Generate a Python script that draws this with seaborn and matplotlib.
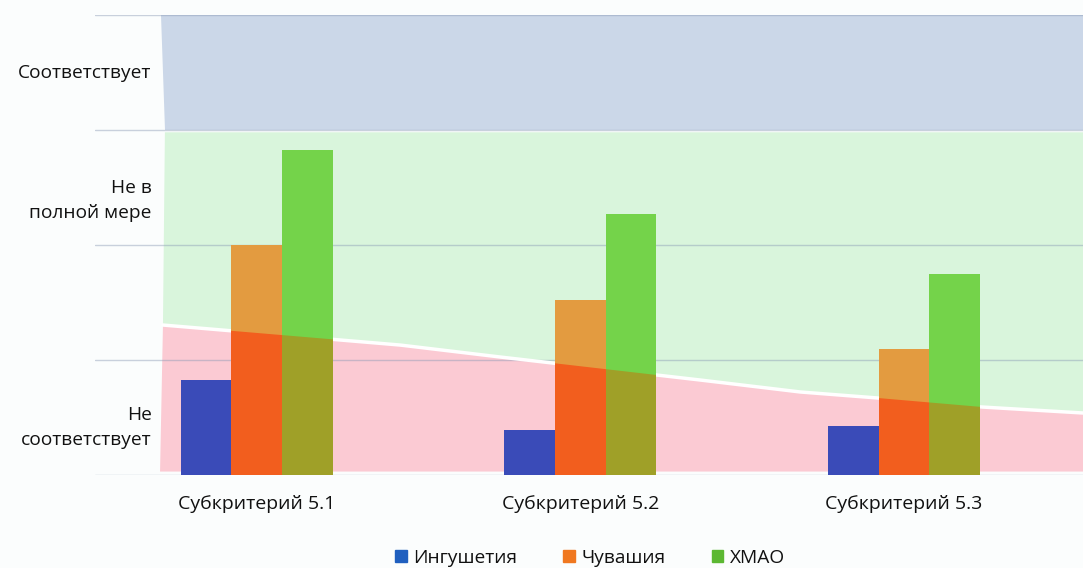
import numpy as np
import pandas as pd
import matplotlib
matplotlib.use('Agg')
from matplotlib import pyplot as plt
from matplotlib.patches import Polygon, Patch
import seaborn as sns

# Chart data
criteria = ['Субкритерий 5.1', 'Субкритерий 5.2', 'Субкритерий 5.3']
regions = ['Ингушетия', 'Чувашия', 'ХМАО']
ingushetia = [0.83, 0.39, 0.43]
chuvashia = [2.0, 1.52, 1.10]
khmao = [2.83, 2.27, 1.75]

# Zone labels on the left
level_labels = ['Не\nсоответствует', 'Не в\nполной мере', 'Соответствует']
level_pos = [0.41, 2.39, 3.5]

# Border between the red and green zones
border_x = [-0.29, 0.443, 0.752, 1.370, 1.679, 1.917, 2.242, 2.554]
border_y = [1.304, 1.13, 1.026, 0.826, 0.722, 0.67, 0.591, 0.539]

legend_colors = ['#1f5fbf', '#f07820', '#5cb832']
upper_colors = ['#3a4bb8', '#e39b40', '#74d34a']
lower_colors = ['#3a4bb8', '#f25e1e', '#9fa028']

df = pd.DataFrame({
    'criterion': criteria * 3,
    'region': [regions[0]] * 3 + [regions[1]] * 3 + [regions[2]] * 3,
    'value': ingushetia + chuvashia + khmao,
})

sns.set_style('white')
plt.rcParams['font.family'] = ['Open Sans', 'DejaVu Sans']

fig = plt.figure(figsize=(10.83, 5.68), dpi=100, facecolor='#fbfdfd')
ax = fig.add_axes([95 / 1083, 1 - 475 / 568, 1 - 95 / 1083, 460 / 568])
ax.set_facecolor('none')

x_right = 2.6
# Background zones
blue_zone = Polygon([(-0.295, 4.0), (x_right, 4.0), (x_right, 3.0), (-0.284, 3.0)],
                    closed=True, facecolor='#cbd7e8', edgecolor='none', zorder=0.5)
green_zone = Polygon([(-0.284, 2.98), (x_right, 2.98)] + [(x_right, border_y[-1])] +
                     list(zip(border_x[::-1], border_y[::-1])),
                     closed=True, facecolor='#d9f5dc', edgecolor='none', zorder=0.5)
pink_zone = Polygon(list(zip(border_x, border_y)) + [(x_right, border_y[-1]), (x_right, 0.03), (-0.299, 0.03)],
                    closed=True, facecolor='#fbcad3', edgecolor='none', zorder=0.5)
for z in (blue_zone, green_zone, pink_zone):
    ax.add_patch(z)
ax.plot(border_x + [x_right], border_y + [border_y[-1]], color='white', lw=2.5, zorder=2)

# clip area for the red-zone colouring of the bars (reaches below the baseline)
red_clip = Polygon(list(zip(border_x, border_y)) + [(x_right, border_y[-1]), (x_right, -0.5), (-0.299, -0.5)],
                   closed=True, transform=ax.transData)

# Bars: top colours, then the same bars recoloured inside the red zone
sns.barplot(data=df, x='criterion', y='value', hue='region', palette=upper_colors,
            saturation=1, width=0.47, legend=False, ax=ax, zorder=3, linewidth=0)
n = len(ax.patches)
sns.barplot(data=df, x='criterion', y='value', hue='region', palette=lower_colors,
            saturation=1, width=0.47, legend=False, ax=ax, zorder=4, linewidth=0)
for p in ax.patches[n:]:
    p.set_clip_path(red_clip)

ax.set_xlim(-0.5, 2.553)
ax.set_ylim(0, 4)
ax.set_yticks([0, 1, 2, 3, 4])
ax.set_yticklabels([])
ax.set_axisbelow('line')
ax.yaxis.grid(True, color='#8a9ab5', alpha=0.45, lw=1)
ax.xaxis.grid(False)
ax.set_xlabel('')
ax.set_ylabel('')
ax.tick_params(axis='x', bottom=False, pad=11, labelsize=14, labelcolor='#111111')
ax.tick_params(axis='y', left=False)
sns.despine(ax=ax, left=True, bottom=True)

for lab, pos in zip(level_labels, level_pos):
    ax.text(-0.325, pos, lab, ha='right', va='center', fontsize=13.8,
            color='#111111', linespacing=1.5)

handles = [Patch(facecolor=c, edgecolor=c, label=r) for c, r in zip(legend_colors, regions)]
fig.legend(handles=handles, loc='center', bbox_to_anchor=(590 / 1083, 1 - 558 / 568),
           ncol=3, frameon=False, handlelength=0.6, handleheight=0.6,
           columnspacing=2.4, handletextpad=0.35, fontsize=13.8, labelcolor='#111111')

fig.savefig('out.png', dpi=100, facecolor=fig.get_facecolor())
